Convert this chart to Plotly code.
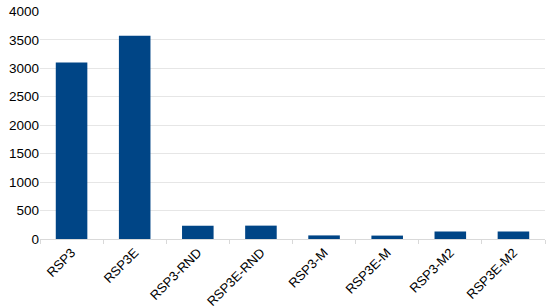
import plotly.graph_objects as go

categories = ["RSP3", "RSP3E", "RSP3-RND", "RSP3E-RND", "RSP3-M", "RSP3E-M", "RSP3-M2", "RSP3E-M2"]
values = [3100, 3570, 233, 235, 63, 60, 133, 130]
y_ticks = [0, 500, 1000, 1500, 2000, 2500, 3000, 3500, 4000]

fig = go.Figure(go.Bar(
    x=categories, y=values,
    marker=dict(color="#004586", line=dict(width=0)),
    width=0.5,
))

fig.update_layout(
    width=550, height=308,
    margin=dict(l=40, r=5, t=11, b=69),
    paper_bgcolor="white", plot_bgcolor="white",
    font=dict(family="Liberation Sans, Arial, sans-serif", size=13, color="black"),
    showlegend=False,
)
fig.update_xaxes(
    type="category", tickangle=-45, tickson="boundaries",
    ticks="outside", ticklen=4, tickcolor="#d9d9d9",
    showline=True, linecolor="#d9d9d9", showgrid=False,
    tickfont=dict(size=13), automargin=False,
)
fig.update_yaxes(
    range=[0, 4006], tickvals=y_ticks,
    showgrid=True, gridcolor="#e6e6e6", zeroline=False,
    ticks="", showline=False, automargin=False,
    tickfont=dict(size=13.5),
)

# drop the default 8px page margin so the figure fills the window
fig.write_html(
    "out.html",
    config={"displayModeBar": False},
    post_script="document.body.style.margin = '0px';",
)
